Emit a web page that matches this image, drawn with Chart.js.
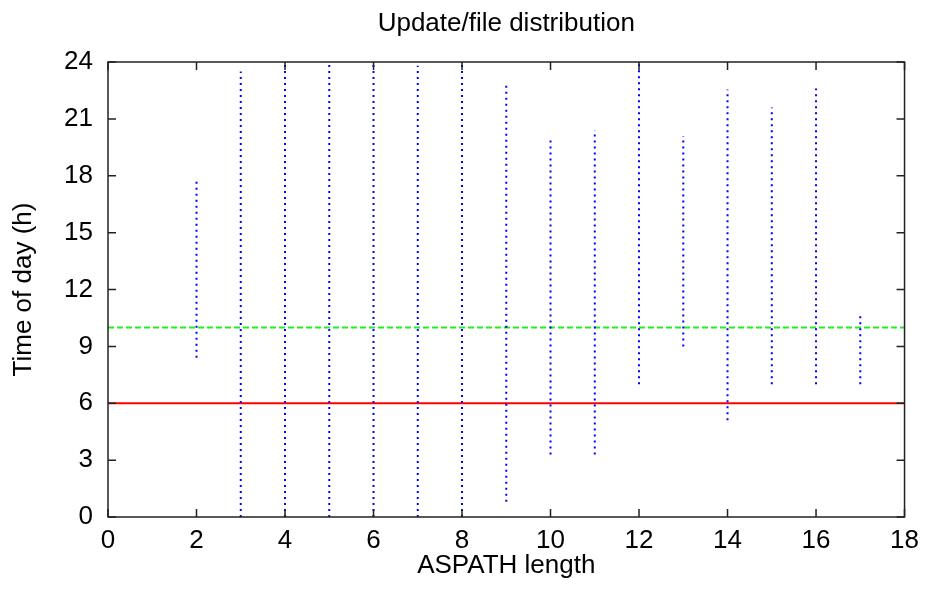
<!DOCTYPE html>
<html>
<head>
<meta charset="utf-8">
<script src="https://cdn.jsdelivr.net/npm/chart.js@4/dist/chart.umd.min.js"></script>
<style>
  html, body { margin: 0; padding: 0; background: #fff; }
  #wrap { width: 927px; height: 591px; position: relative; }
</style>
</head>
<body>
<div id="wrap"><canvas id="myChart"></canvas></div>
<script>
// ASPATH length -> range of update times over the day (hours)
const lengths = [2, 3, 4, 5, 6, 7, 8, 9, 10, 11, 12, 13, 14, 15, 16, 17];
const lows    = [8.4, 0, 0, 0, 0, 0, 0, 0.8, 3.3, 3.3, 7.0, 9.0, 5.1, 7.0, 7.0, 7.0];
const highs   = [17.7, 23.5, 24, 24, 24, 23.8, 24, 22.9, 20.0, 20.4, 24, 20.1, 22.55, 21.6, 22.6, 10.7];

const redLevel = 6;
const greenLevel = 10;

const xTicks = [0, 2, 4, 6, 8, 10, 12, 14, 16, 18];
const yTicks = [0, 3, 6, 9, 12, 15, 18, 21, 24];

const chartTitle = 'Update/file distribution';
const fontFamily = "'Liberation Sans', Helvetica, Arial, sans-serif";

// one segment per length, broken with a null point
const ranges = [];
for (let i = 0; i < lengths.length; i++) {
    ranges.push({x: lengths[i], y: lows[i]});
    ranges.push({x: lengths[i], y: highs[i]});
    ranges.push({x: lengths[i], y: null});
}

// gnuplot-like frame with inward ticks on all four sides, title over the plot area
const framePlugin = {
    id: 'frame',
    afterDraw(chart) {
        const {ctx, chartArea, scales} = chart;
        const len = 8;
        ctx.save();
        ctx.strokeStyle = '#222';
        ctx.lineWidth = 1.5;
        ctx.beginPath();
        xTicks.forEach(v => {
            const px = scales.x.getPixelForValue(v);
            ctx.moveTo(px, chartArea.bottom);
            ctx.lineTo(px, chartArea.bottom - len);
            ctx.moveTo(px, chartArea.top);
            ctx.lineTo(px, chartArea.top + len);
        });
        yTicks.forEach(v => {
            const py = scales.y.getPixelForValue(v);
            ctx.moveTo(chartArea.left, py);
            ctx.lineTo(chartArea.left + len, py);
            ctx.moveTo(chartArea.right, py);
            ctx.lineTo(chartArea.right - len, py);
        });
        ctx.stroke();
        ctx.strokeRect(chartArea.left, chartArea.top,
            chartArea.right - chartArea.left, chartArea.bottom - chartArea.top);

        ctx.fillStyle = '#000';
        ctx.font = '26px ' + fontFamily;
        ctx.textAlign = 'center';
        ctx.textBaseline = 'middle';
        ctx.fillText(chartTitle, (chartArea.left + chartArea.right) / 2, 24);
        ctx.restore();
    }
};

const ctx = document.getElementById('myChart').getContext('2d');

const myChart = new Chart(ctx, {
    type: 'line',
    data: {
        datasets: [
            {
                label: 'range',
                data: ranges,
                borderColor: '#0000ff',
                borderWidth: 2,
                borderDash: [2, 4],
                pointRadius: 0,
                spanGaps: false,
                tension: 0
            },
            {
                label: 'green',
                data: [{x: 0, y: greenLevel}, {x: 18, y: greenLevel}],
                borderColor: '#22ee22',
                borderWidth: 2,
                borderDash: [6, 3],
                pointRadius: 0
            },
            {
                label: 'red',
                data: [{x: 0, y: redLevel}, {x: 18, y: redLevel}],
                borderColor: '#ff0000',
                borderWidth: 2,
                pointRadius: 0
            }
        ]
    },
    options: {
        responsive: true,
        maintainAspectRatio: false,
        animation: false,
        layout: { padding: { left: 0, right: 20, top: 62, bottom: 0 } },
        plugins: {
            legend: { display: false },
            tooltip: { enabled: false },
            title: { display: false }
        },
        scales: {
            x: {
                type: 'linear',
                min: 0,
                max: 18,
                grid: { display: false, drawTicks: false },
                border: { display: false },
                ticks: {
                    stepSize: 2,
                    padding: 8,
                    color: '#000',
                    maxRotation: 0,
                    font: { family: fontFamily, size: 26 }
                },
                title: {
                    display: true,
                    text: 'ASPATH length',
                    color: '#000',
                    font: { family: fontFamily, size: 26 },
                    padding: { top: 0, bottom: 10 }
                },
                afterFit(scale) { scale.height = 74; }
            },
            y: {
                type: 'linear',
                min: 0,
                max: 24,
                grid: { display: false, drawTicks: false },
                border: { display: false },
                ticks: {
                    stepSize: 3,
                    padding: 15,
                    color: '#000',
                    font: { family: fontFamily, size: 26 }
                },
                title: {
                    display: true,
                    text: 'Time of day (h)',
                    color: '#000',
                    font: { family: fontFamily, size: 26 },
                    padding: { top: 8, bottom: 0 }
                },
                afterFit(scale) { scale.width = 108; }
            }
        }
    },
    plugins: [framePlugin]
});
</script>
</body>
</html>
